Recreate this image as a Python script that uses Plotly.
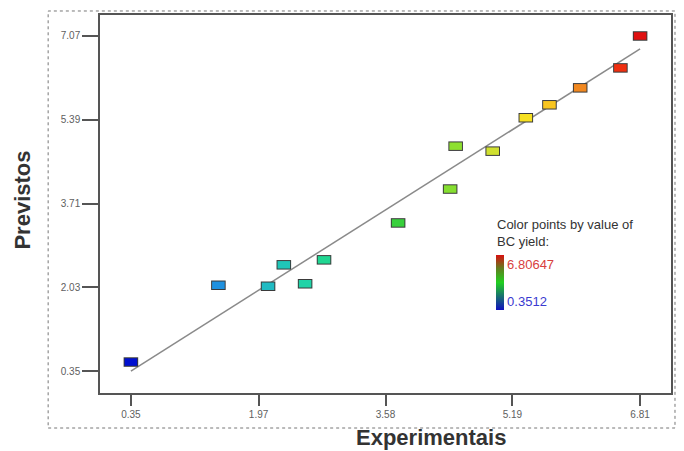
import plotly.graph_objects as go

# Data
experimental = [0.35, 1.46, 2.09, 2.29, 2.56, 2.80, 3.74, 4.40, 4.47, 4.94, 5.36, 5.66, 6.05, 6.56, 6.81]
predicted    = [0.53, 2.07, 2.05, 2.48, 2.10, 2.58, 3.32, 4.00, 4.86, 4.76, 5.43, 5.69, 6.03, 6.43, 7.07]
line_x = [0.35, 6.81]
line_y = [0.35, 6.81]
x_ticks = [0.35, 1.97, 3.58, 5.19, 6.81]
y_ticks = [0.35, 2.03, 3.71, 5.39, 7.07]
c_min, c_max = 0.3512, 6.80647
cb_labels = ["0.3512", "6.80647"]

point_scale = [
    [0.0, '#0010d0'], [0.17, '#2090e0'], [0.28, '#20c0c0'], [0.36, '#20d8a0'],
    [0.45, '#20d060'], [0.55, '#40d030'], [0.64, '#90e030'], [0.72, '#d8e030'],
    [0.78, '#f8e020'], [0.83, '#f8c020'], [0.89, '#f08020'], [0.96, '#f03010'],
    [1.0, '#e01010'],
]
bar_scale = [[0.0, '#1010c0'], [0.5, '#20d020'], [0.75, '#608020'], [1.0, '#d81010']]

fig = go.Figure()

fig.add_trace(go.Scatter(
    x=line_x, y=line_y, mode='lines',
    line=dict(color='#8a8a8a', width=1.5),
    showlegend=False, hoverinfo='skip'))

# dark outline of rectangles
fig.add_trace(go.Scatter(
    x=experimental, y=predicted, mode='markers',
    marker=dict(symbol='line-ew', size=10.4, line=dict(width=9.5, color='#3a3a3a')),
    showlegend=False, hoverinfo='skip'))

span = c_max - c_min
fig.add_trace(go.Scatter(
    x=experimental, y=predicted, mode='markers',
    marker=dict(
        symbol='line-ew', size=9.0,
        color=experimental, cmin=c_min, cmax=c_max, colorscale=bar_scale,
        showscale=True,
        colorbar=dict(
            x=0.693, xanchor='left', y=0.292, yanchor='middle',
            len=55, lenmode='pixels', thickness=8, outlinewidth=0,
            xpad=0, ypad=0, ticks='',
            tickvals=[c_min + 0.165 * span, c_max - 0.165 * span],
            ticktext=["<span style='color:#3a3ad0'>%s</span>" % cb_labels[0],
                      "<span style='color:#d84040'>%s</span>" % cb_labels[1]],
            tickfont=dict(size=13, family='Arial, Liberation Sans'),
        ),
        line=dict(width=7.5, color=experimental, cmin=c_min, cmax=c_max, colorscale=point_scale),
    ),
    showlegend=False))

axis_common = dict(
    showline=True, linecolor='#555555', linewidth=1.5, mirror=True,
    showgrid=False, zeroline=False, ticks='outside', tickcolor='#555555',
    tickwidth=1.5, tickfont=dict(size=10, color='#606060', family='Arial, Liberation Sans'),
)

fig.update_layout(
    width=684, height=451,
    margin=dict(l=100, r=11, t=15, b=58),
    paper_bgcolor='white', plot_bgcolor='white',
    xaxis=dict(range=[-0.042, 7.202], tickvals=x_ticks,
               ticktext=[f"{v:.2f}" for v in x_ticks], ticklen=11, **axis_common),
    yaxis=dict(range=[-0.091, 7.491], tickvals=y_ticks,
               ticktext=[f"{v:.2f}" for v in y_ticks], ticklen=16, **axis_common),
    shapes=[dict(type='rect', xref='paper', yref='paper',
                 x0=-0.0908, x1=1.007, y0=-0.0926, y1=1.0106,
                 line=dict(color='#777777', width=1, dash='dot'))],
    annotations=[
        dict(text='<b>Experimentais</b>', xref='paper', yref='paper', x=0.579, y=-0.119,
             xanchor='center', yanchor='middle', showarrow=False,
             font=dict(size=22, color='#333333', family='Arial, Liberation Sans')),
        dict(text='<b>Previstos</b>', xref='paper', yref='paper', x=-0.136, y=0.51,
             xanchor='center', yanchor='middle', showarrow=False, textangle=-90,
             font=dict(size=22, color='#333333', family='Arial, Liberation Sans')),
        dict(text='Color points by value of<br>BC yield:', xref='paper', yref='paper',
             x=0.691, y=0.47, xanchor='left', yanchor='top', align='left', showarrow=False,
             font=dict(size=13, color='#333333', family='Arial, Liberation Sans')),
    ],
)

fig.write_html("out.html", config={'displayModeBar': False},
               post_script="document.body.style.margin='0px';")
